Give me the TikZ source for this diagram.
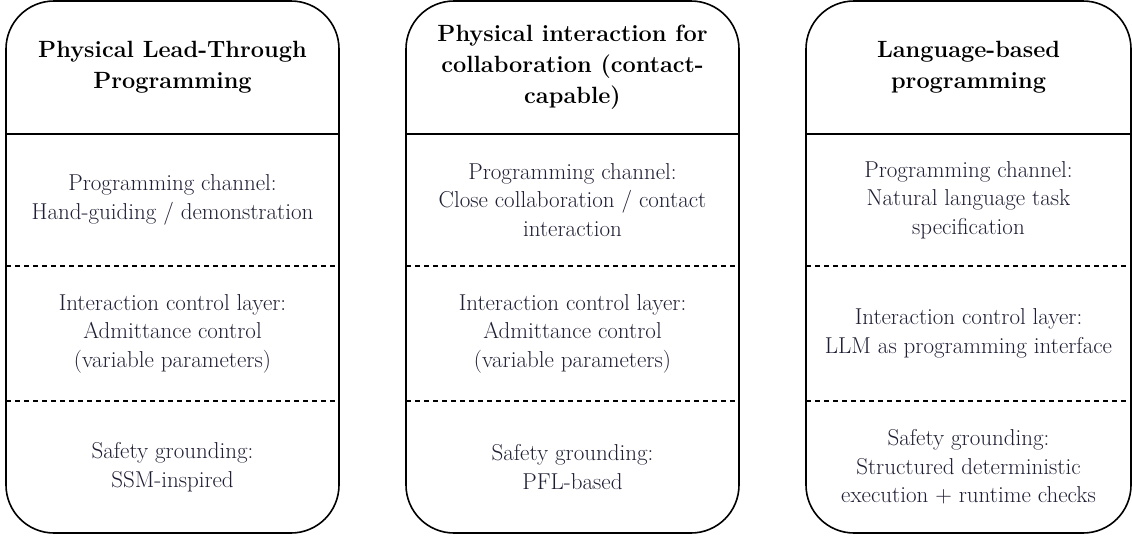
\documentclass[tikz,border=0pt]{standalone}
\definecolor{bodytext}{RGB}{30,30,52}
\tikzset{
  panel/.style={draw,line width=1.6pt,rounded corners=48pt},
  headrule/.style={draw,line width=1.4pt},
  layerrule/.style={draw,line width=1.2pt,dash pattern=on 5pt off 4pt},
  headtext/.style={align=center,font=\bfseries\fontsize{23.5}{31}\selectfont},
  celltext/.style={align=center,text=bodytext,font=\fontsize{23}{28.5}\selectfont}
}
\begin{document}
\begin{tikzpicture}[x=1pt,y=-1pt]
\useasboundingbox (0,0) rectangle (1132,536);

% lead-through panel
\path[panel] (6,1) rectangle (339,533);
\path[headrule] (6,134) -- (339,134);
\path[layerrule] (6,266) -- (339,266);
\path[layerrule] (6,401) -- (339,401);
\node[headtext] (leadhead) at (172.5,67) {Physical Lead-Through\\Programming};
\node[celltext] (leadchan) at (172.5,200) {Programming channel:\\Hand-guiding / demonstration};
\node[celltext] (leadctrl) at (172.5,333.5) {Interaction control layer:\\Admittance control\\(variable parameters)};
\node[celltext] (leadsafe) at (172.5,467) {Safety grounding:\\SSM-inspired};

% contact panel
\path[panel] (406,1) rectangle (739,533);
\path[headrule] (406,134) -- (739,134);
\path[layerrule] (406,266) -- (739,266);
\path[layerrule] (406,401) -- (739,401);
\node[headtext] (conthead) at (572.5,67) {Physical interaction for\\collaboration (contact-\\capable)};
\node[celltext] (contchan) at (572.5,200) {Programming channel:\\Close collaboration / contact\\interaction};
\node[celltext] (contctrl) at (572.5,333.5) {Interaction control layer:\\Admittance control\\(variable parameters)};
\node[celltext] (contsafe) at (572.5,467) {Safety grounding:\\PFL-based};

% language panel
\path[panel] (806,1) rectangle (1131,533);
\path[headrule] (806,134) -- (1131,134);
\path[layerrule] (806,266) -- (1131,266);
\path[layerrule] (806,401) -- (1131,401);
\node[headtext] (langhead) at (968.5,67) {Language-based\\programming};
\node[celltext] (langchan) at (968.5,200) {Programming channel:\\Natural language task\\specification};
\node[celltext] (langctrl) at (968.5,333.5) {Interaction control layer:\\LLM as programming interface};
\node[celltext] (langsafe) at (968.5,467) {Safety grounding:\\Structured deterministic\\execution + runtime checks};
\end{tikzpicture}
\end{document}
